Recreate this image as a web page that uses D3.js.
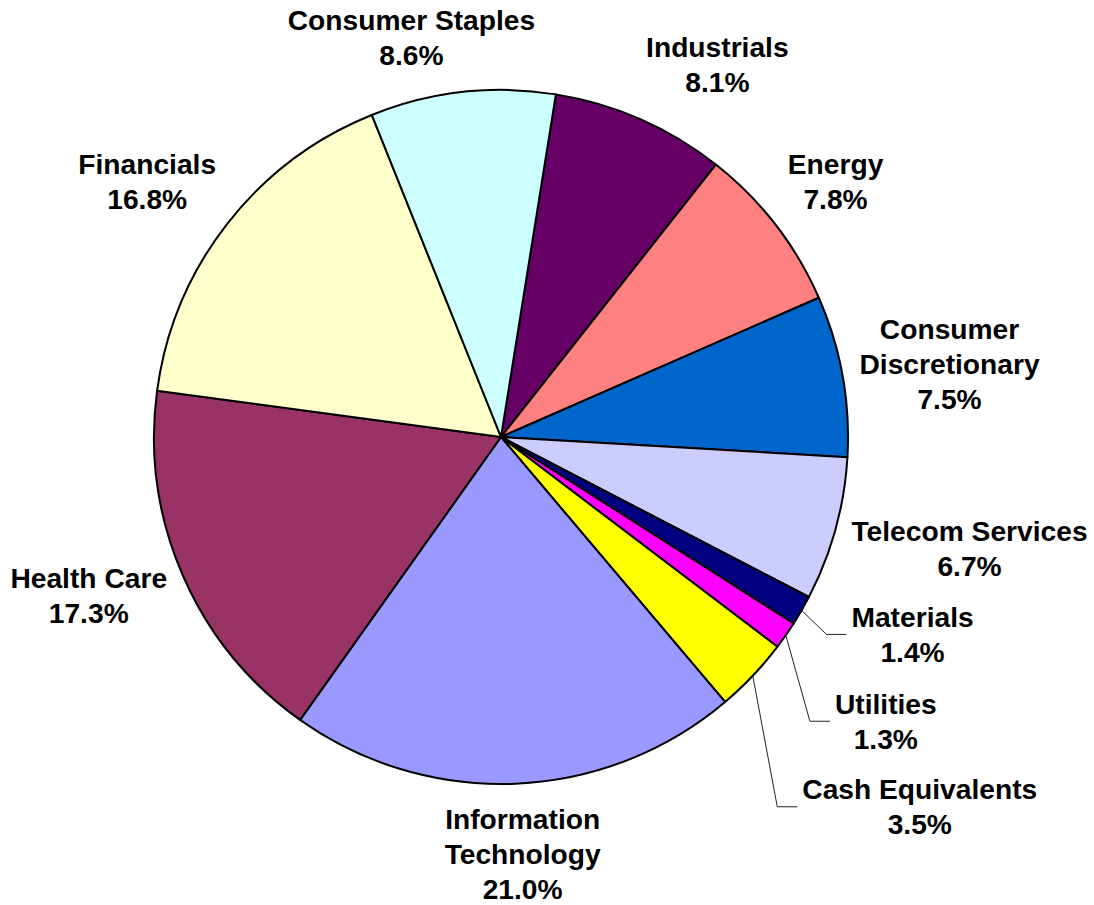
<!DOCTYPE html>
<html>
<head>
<meta charset="utf-8">
<script src="https://cdn.jsdelivr.net/npm/d3@7"></script>
<style>
  html, body { margin: 0; padding: 0; background: #ffffff; }
  svg { display: block; }
  text { font-family: "Liberation Sans", Arial, sans-serif; font-weight: bold; fill: #000; }
</style>
</head>
<body>
<svg id="chart" width="1094" height="905"></svg>
<script>
// ---- data ----
const categories = ["Industrials", "Energy", "Consumer Discretionary", "Telecom Services",
  "Materials", "Utilities", "Cash Equivalents", "Information Technology",
  "Health Care", "Financials", "Consumer Staples"];
const values = [8.1, 7.8, 7.5, 6.7, 1.4, 1.3, 3.5, 21.0, 17.3, 16.8, 8.6];
const labelLines = [["Industrials"], ["Energy"], ["Consumer", "Discretionary"], ["Telecom Services"],
  ["Materials"], ["Utilities"], ["Cash Equivalents"], ["Information", "Technology"],
  ["Health Care"], ["Financials"], ["Consumer Staples"]];
const colors = ["#660066", "#FF8080", "#0066CC", "#CCCCFF", "#000080", "#FF00FF",
  "#FFFF00", "#9999FF", "#993366", "#FFFFCC", "#CCFFFF"];

// ---- layout (label block offsets from the slice's outer arc midpoint) ----
const labelOffsets = [[77, -55], [60, -43], [107, -12], [134, 19], [111, 24], [100, 86],
  [167, 131], [7, 70], [-94, 20], [-80, -42], [-51, -55]];
const leaderFlags = [false, false, false, false, true, true, true, false, false, false, false];

const W = 1094, H = 905;
const cx = 501, cy = 437, R = 347;
const startDeg = 9.1;
const fs = 28.2, lh = 35, capH = 0.716 * fs;

const svg = d3.select("#chart");
const g = svg.append("g").attr("transform", `translate(${cx},${cy})`);

const data = categories.map((c, i) => ({ name: c, value: values[i], i }));
const pie = d3.pie().sort(null).value(d => d.value)
  .startAngle(startDeg * Math.PI / 180)
  .endAngle(startDeg * Math.PI / 180 + 2 * Math.PI);
const arcs = pie(data);
const arc = d3.arc().innerRadius(0).outerRadius(R);
const edgeArc = d3.arc().innerRadius(R).outerRadius(R);

g.selectAll("path.slice").data(arcs).enter().append("path")
  .attr("class", "slice")
  .attr("d", arc)
  .attr("fill", d => colors[d.data.i])
  .attr("stroke", "#000")
  .attr("stroke-width", 2)
  .attr("stroke-linejoin", "round");

const fmt = d3.format(".1f");

arcs.forEach(a => {
  const i = a.data.i;
  const p = edgeArc.centroid(a);
  const bx = p[0] + labelOffsets[i][0];
  const by = p[1] + labelOffsets[i][1];
  const lines = labelLines[i].concat([fmt(a.data.value) + "%"]);
  const n = lines.length;
  const blockH = (n - 1) * lh + capH;
  const firstBase = by - blockH / 2 + capH;
  const t = g.append("text")
    .attr("text-anchor", "middle")
    .attr("font-size", fs);
  lines.forEach((ln, k) => {
    t.append("tspan").attr("x", bx).attr("y", firstBase + k * lh).text(ln);
  });
  if (leaderFlags[i]) {
    let maxW = 0;
    t.selectAll("tspan").each(function () { maxW = Math.max(maxW, this.getComputedTextLength()); });
    const left = bx - maxW / 2 - 5;
    const elbowX = left - 20;
    g.insert("polyline", "text")
      .attr("points", [[p[0], p[1]], [elbowX, by], [left, by]].map(q => q.join(",")).join(" "))
      .attr("fill", "none")
      .attr("stroke", "#222")
      .attr("stroke-width", 1);
  }
});
</script>
</body>
</html>
